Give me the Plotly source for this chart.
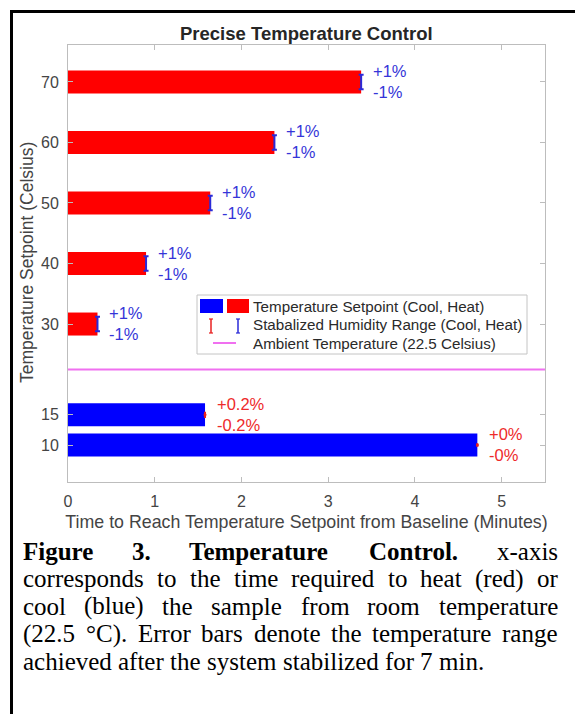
import plotly.graph_objects as go

# Heating runs (setpoint above ambient)
heat_setpoints = [70, 60, 50, 40, 30]
heat_times = [3.38, 2.38, 1.64, 0.90, 0.34]
heat_err = [1.2, 1.2, 1.2, 1.2, 1.2]
heat_pct = ["1", "1", "1", "1", "1"]

# Cooling runs (setpoint below ambient)
cool_setpoints = [15, 10]
cool_times = [1.58, 4.72]
cool_err = [0.35, 0.12]
cool_pct = ["0.2", "0"]

ambient_temp = 22.5
x_ticks = [0, 1, 2, 3, 4, 5]
y_ticks = [10, 15, 30, 40, 50, 60, 70]

legend_labels = [
    "Temperature Setpoint (Cool, Heat)",
    "Stabalized Humidity Range (Cool, Heat)",
    "Ambient Temperature (22.5 Celsius)",
]

caption_lines = [
    [("Figure", True), ("3.", True), ("Temperature", True), ("Control.", True), ("x-axis", False)],
    [(w, False) for w in "corresponds to the time required to heat (red) or".split()],
    [(w, False) for w in "cool (blue) the sample from room temperature".split()],
    [(w, False) for w in "(22.5 °C). Error bars denote the temperature range".split()],
    [(w, False) for w in "achieved after the system stabilized for 7 min.".split()],
]

W, H = 575, 714
ML, MR, MT, MB = 68, 30, 45, 232
PW, PH = W - ML - MR, H - MT - MB

RED = "#ff0000"
BLUE = "#0000ff"
ERR_BLUE = "#2a2ad8"
ERR_RED = "#e82020"
LBL_BLUE = "#3535d8"
LBL_RED = "#ee2a2a"
MAGENTA = "#f070f0"
AX_GRAY = "#bdbdbd"
TXT = "#444444"
SANS = "Liberation Sans, Arial, sans-serif"
SERIF = "Liberation Serif, Times New Roman, serif"


def px(x):
    return (x - ML) / PW


def py(y):
    return (H - MB - y) / PH


fig = go.Figure()

fig.add_trace(go.Bar(
    x=heat_times, y=heat_setpoints, orientation="h", width=3.8,
    marker=dict(color=RED, line=dict(width=0)), showlegend=False,
))
fig.add_trace(go.Bar(
    x=cool_times, y=cool_setpoints, orientation="h", width=3.8,
    marker=dict(color=BLUE, line=dict(width=0)), showlegend=False,
))

fig.add_trace(go.Scatter(
    x=heat_times, y=heat_setpoints, mode="markers",
    marker=dict(size=1, color=ERR_BLUE),
    error_y=dict(type="data", array=heat_err, color=ERR_BLUE, thickness=2, width=2.5),
    showlegend=False,
))
fig.add_trace(go.Scatter(
    x=cool_times, y=cool_setpoints, mode="markers",
    marker=dict(size=3, color=ERR_RED),
    error_y=dict(type="data", array=cool_err, color=ERR_RED, thickness=2, width=1),
    showlegend=False,
))

# ambient temperature reference
fig.add_trace(go.Scatter(
    x=[0, 5.5], y=[ambient_temp, ambient_temp], mode="lines",
    line=dict(color=MAGENTA, width=2), showlegend=False,
))

annotations = []
shapes = []

# +/- labels beside each bar end
for t, s, p in zip(heat_times, heat_setpoints, heat_pct):
    for sign, dy in (("+", 11), ("-", -10)):
        annotations.append(dict(
            x=t, y=s, xref="x", yref="y", text=f"{sign}{p}%", showarrow=False,
            xanchor="left", yanchor="middle", xshift=10, yshift=dy,
            font=dict(family=SANS, size=16.5, color=LBL_BLUE),
        ))
for t, s, p in zip(cool_times, cool_setpoints, cool_pct):
    for sign, dy in (("+", 11), ("-", -10)):
        annotations.append(dict(
            x=t, y=s, xref="x", yref="y", text=f"{sign}{p}%", showarrow=False,
            xanchor="left", yanchor="middle", xshift=10, yshift=dy,
            font=dict(family=SANS, size=16.5, color=LBL_RED),
        ))

# title
annotations.append(dict(
    x=0.5, y=py(33), xref="paper", yref="paper", text="<b>Precise Temperature Control</b>",
    showarrow=False, xanchor="center", yanchor="middle",
    font=dict(family=SANS, size=18.5, color="#262626"),
))

# y-axis title
annotations.append(dict(
    x=px(27), y=py(263), xref="paper", yref="paper", text="Temperature Setpoint (Celsius)",
    showarrow=False, xanchor="center", yanchor="middle", textangle=-90,
    font=dict(family=SANS, size=17.5, color=TXT),
))

# legend box drawn by hand (two swatches per entry)
lx0, lx1, ly0, ly1 = 197, 527, 295, 354
shapes.append(dict(type="rect", xref="paper", yref="paper",
                   x0=px(lx0), x1=px(lx1), y0=py(ly1), y1=py(ly0),
                   line=dict(color="#c4c4c4", width=1), fillcolor="white", layer="above"))
shapes.append(dict(type="rect", xref="paper", yref="paper",
                   x0=px(200), x1=px(223), y0=py(313), y1=py(299),
                   line=dict(width=0), fillcolor=BLUE, layer="above"))
shapes.append(dict(type="rect", xref="paper", yref="paper",
                   x0=px(227), x1=px(249), y0=py(313), y1=py(299),
                   line=dict(width=0), fillcolor=RED, layer="above"))
for cx, col in ((211, ERR_RED), (238, ERR_BLUE)):
    shapes.append(dict(type="line", xref="paper", yref="paper",
                       x0=px(cx), x1=px(cx), y0=py(333), y1=py(319),
                       line=dict(color=col, width=1.5), layer="above"))
    for yy in (319, 333):
        shapes.append(dict(type="line", xref="paper", yref="paper",
                           x0=px(cx - 2), x1=px(cx + 2), y0=py(yy), y1=py(yy),
                           line=dict(color=col, width=1.2), layer="above"))
shapes.append(dict(type="line", xref="paper", yref="paper",
                   x0=px(213), x1=px(236), y0=py(343), y1=py(343),
                   line=dict(color=MAGENTA, width=2), layer="above"))
for i, lab in enumerate(legend_labels):
    annotations.append(dict(
        x=px(251), y=py(306 + 18.5 * i), xref="paper", yref="paper", text=lab,
        showarrow=False, xanchor="left", yanchor="middle",
        font=dict(family=SANS, size=15.2, color="#2a2a2a"),
    ))

# page frame (left and top rules)
shapes.append(dict(type="line", xref="paper", yref="paper",
                   x0=px(11.5), x1=px(11.5), y0=py(714), y1=py(10),
                   line=dict(color="black", width=3)))
shapes.append(dict(type="line", xref="paper", yref="paper",
                   x0=px(10), x1=px(575), y0=py(11.5), y1=py(11.5),
                   line=dict(color="black", width=3)))

# justified caption in Times metrics
TIMES = {
    " ": 250, "a": 444, "b": 500, "c": 444, "d": 500, "e": 444, "f": 333, "g": 500,
    "h": 500, "i": 278, "j": 278, "k": 500, "l": 278, "m": 778, "n": 500, "o": 500,
    "p": 500, "q": 500, "r": 333, "s": 389, "t": 278, "u": 500, "v": 500, "w": 722,
    "x": 500, "y": 500, "z": 444, "(": 333, ")": 333, ".": 250, "-": 333, ",": 250,
    "°": 400, "C": 667, "E": 611, "F": 556, "T": 611, "0": 500, "1": 500, "2": 500,
    "3": 500, "4": 500, "5": 500, "6": 500, "7": 500, "8": 500, "9": 500,
}
TIMES_BOLD = dict(TIMES)
TIMES_BOLD.update({"F": 611, "T": 667, "C": 722, "u": 556, "r": 444, "m": 833,
                   "p": 556, "a": 500, "t": 333, "n": 556})

CAP_SIZE = 25
CAP_LEFT, CAP_RIGHT = 21, 556
CAP_TOP, CAP_STEP = 551, 27.6


def word_width(word, bold):
    table = TIMES_BOLD if bold else TIMES
    return sum(table.get(ch, 500) for ch in word) * CAP_SIZE / 1000.0


for li, words in enumerate(caption_lines):
    ycap = CAP_TOP + li * CAP_STEP
    widths = [word_width(w, b) for w, b in words]
    last = li == len(caption_lines) - 1
    if last:
        gap = TIMES[" "] * CAP_SIZE / 1000.0
    else:
        gap = (CAP_RIGHT - CAP_LEFT - sum(widths)) / (len(words) - 1)
    xcur = CAP_LEFT
    for (w, b), wd in zip(words, widths):
        annotations.append(dict(
            x=px(xcur), y=py(ycap), xref="paper", yref="paper",
            text=f"<b>{w}</b>" if b else w, showarrow=False,
            xanchor="left", yanchor="middle",
            font=dict(family=SERIF, size=CAP_SIZE, color="black"),
        ))
        xcur += wd + gap

fig.update_layout(
    width=W, height=H,
    margin=dict(l=ML, r=MR, t=MT, b=MB, pad=0),
    paper_bgcolor="white", plot_bgcolor="white",
    barmode="overlay",
    annotations=annotations, shapes=shapes,
    xaxis=dict(
        range=[0, 5.5], tickvals=x_ticks, ticks="inside", ticklen=5, tickcolor=AX_GRAY,
        showline=True, linecolor=AX_GRAY, linewidth=1, mirror="ticks", showgrid=False,
        zeroline=False, tickfont=dict(family=SANS, size=16, color=TXT),
        ticklabelstandoff=5,
        title=dict(text="Time to Reach Temperature Setpoint from Baseline (Minutes)",
                   font=dict(family=SANS, size=17.8, color=TXT), standoff=6),
    ),
    yaxis=dict(
        range=[3.9, 76.1], tickvals=y_ticks, ticks="inside", ticklen=5, tickcolor=AX_GRAY,
        showline=True, linecolor=AX_GRAY, linewidth=1, mirror="ticks", showgrid=False,
        zeroline=False, tickfont=dict(family=SANS, size=16, color=TXT),
        ticklabelstandoff=5,
    ),
)

fig.write_html("out.html")
